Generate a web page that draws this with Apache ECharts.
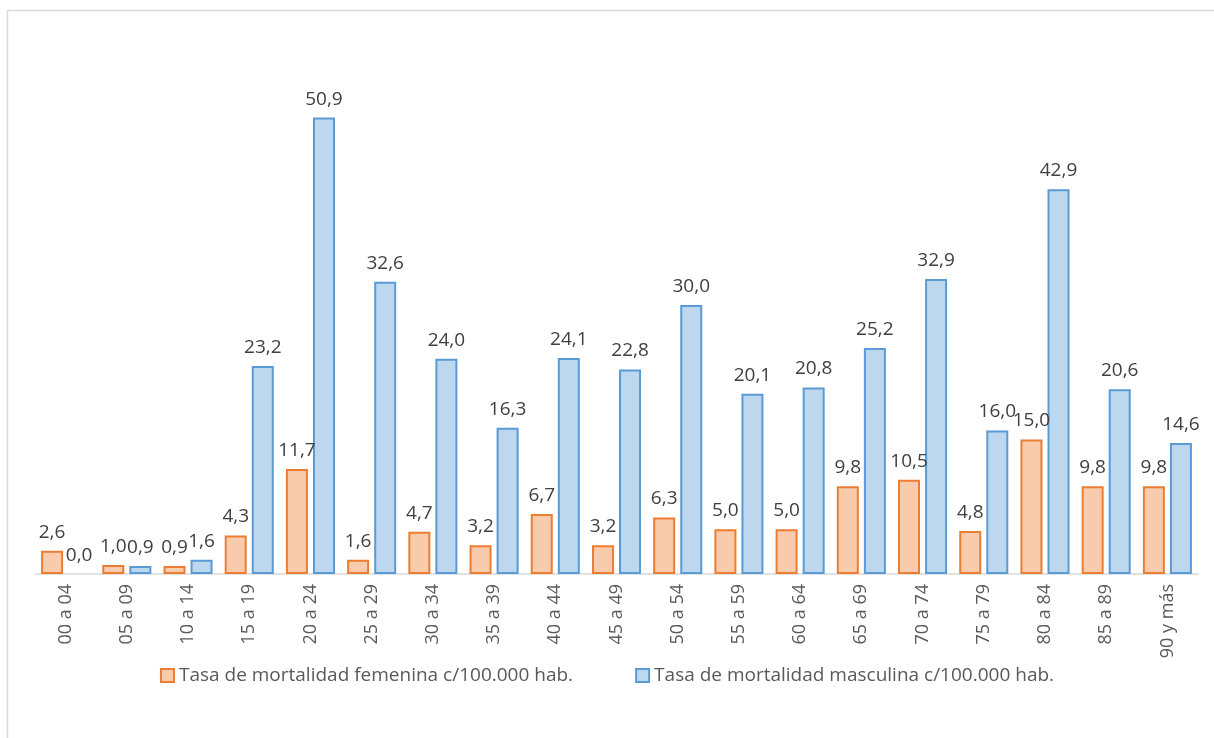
<!DOCTYPE html>
<html>
<head>
<meta charset="utf-8">
<script src="https://cdn.jsdelivr.net/npm/echarts@6/dist/echarts.min.js"></script>
<style>html,body{margin:0;padding:0;background:#fff}#c{width:1214px;height:738px}</style>
</head>
<body>
<div id="c"></div>
<script>
const categories = ["00 a 04","05 a 09","10 a 14","15 a 19","20 a 24","25 a 29","30 a 34","35 a 39","40 a 44","45 a 49","50 a 54","55 a 59","60 a 64","65 a 69","70 a 74","75 a 79","80 a 84","85 a 89","90 y más"];
const femenina = [2.6,1.0,0.9,4.3,11.7,1.6,4.7,3.2,6.7,3.2,6.3,5.0,5.0,9.8,10.5,4.8,15.0,9.8,9.8];
const masculina = [0.0,0.9,1.6,23.2,50.9,32.6,24.0,16.3,24.1,22.8,30.0,20.1,20.8,25.2,32.9,16.0,42.9,20.6,14.6];
const seriesNames = ["Tasa de mortalidad femenina c/100.000 hab.","Tasa de mortalidad masculina c/100.000 hab."];

const font = "'Open Sans', 'Noto Sans', sans-serif";
const chart = echarts.init(document.getElementById('c'), null, {renderer:'canvas'});
const lbl = {show:true, position:'top', distance:9, color:'#404040', fontSize:19, fontFamily:font,
  formatter: p => p.value.toFixed(1).replace('.', ',')};
const toData = arr => arr.map(v => v === 0 ? {value:v, itemStyle:{borderWidth:0}} : v);
chart.setOption({
  animation:false,
  graphic:[{type:'rect', shape:{x:7.5,y:10.5,width:1220,height:740}, style:{fill:'none', stroke:'#d9d9d9', lineWidth:1.5}, silent:true}],
  grid:{left:35, right:16, top:36, bottom:164},
  legend:{bottom:48, left:'center', itemWidth:13, itemHeight:13, itemGap:62,
    textStyle:{color:'#595959', fontSize:19, fontFamily:font},
    data:[{name:seriesNames[0], icon:'rect'},{name:seriesNames[1], icon:'rect'}]},
  xAxis:{type:'category', data:categories,
    axisLine:{lineStyle:{color:'#d9d9d9', width:1.5}}, axisTick:{show:false},
    axisLabel:{rotate:90, color:'#595959', fontSize:18, fontFamily:font, margin:10, interval:0}},
  yAxis:{type:'value', min:0, max:60, interval:10, show:false, splitLine:{show:false}},
  series:[
    {name:seriesNames[0], type:'bar', data:toData(femenina), barWidth:22, barGap:'23%',
     itemStyle:{color:'#F8CBAD', borderColor:'#ED7D31', borderWidth:2}, label:lbl},
    {name:seriesNames[1], type:'bar', data:toData(masculina), barWidth:22, barGap:'23%',
     itemStyle:{color:'#BDD7EE', borderColor:'#5B9BD5', borderWidth:2}, label:lbl}
  ]
});
</script>
</body>
</html>
